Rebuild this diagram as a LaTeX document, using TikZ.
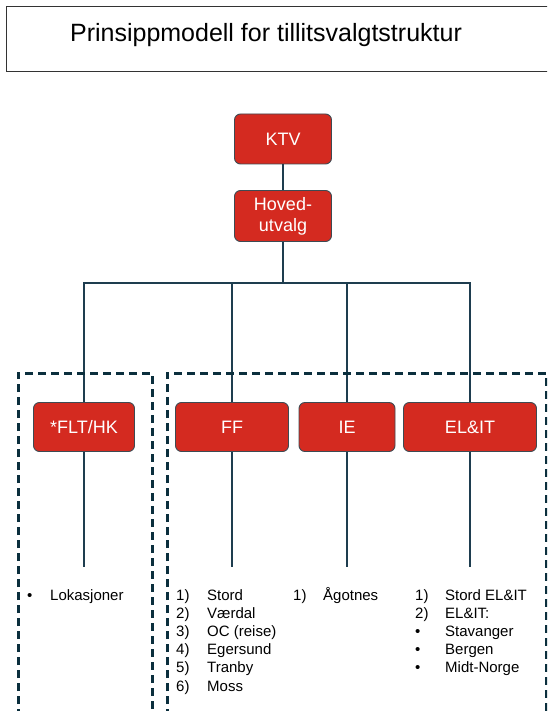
\documentclass[tikz,border=0pt]{standalone}
\usepackage{fontspec}
\setmainfont{Liberation Sans}
\usetikzlibrary{positioning}

\definecolor{unitred}{HTML}{D42A20}
\definecolor{unitedge}{HTML}{3E4A52}
\definecolor{linkcol}{HTML}{1E3D4F}
\definecolor{groupcol}{HTML}{0B2F3D}

\tikzset{
    unit/.style={draw=unitedge, fill=unitred, rounded corners=6pt, text=white,
        minimum height=49pt, inner sep=0pt, line width=0.9pt, align=center,
        font=\fontsize{18}{21}\selectfont},
    link/.style={draw=linkcol, line width=1.1pt},
    group/.style={draw=groupcol, line width=3pt, dash pattern=on 8pt off 5pt},
    sites/.style={anchor=base west, inner sep=0pt, font=\fontsize{15}{18.2}\selectfont}
}

\begin{document}
\begin{tikzpicture}[x=1pt, y=-1pt]
        \clip (0, 0) rectangle (547, 711);
        \fill[white] (0, 0) rectangle (547, 711);

        \draw[line width=1pt, black!80] (6, 7) rectangle (600, 72);
        \node[anchor=base, inner sep=0pt, font=\fontsize{25}{30}\selectfont] (title) at (266, 42) {Prinsippmodell for tillitsvalgtstruktur};

        \node[unit, minimum width=97pt, minimum height=50pt] (ktv) at (283, 139) {KTV};
        \node[unit, minimum width=97pt, minimum height=51pt] (hoved) at (283, 216) {Hoved-\\utvalg};

        \node[unit, minimum width=101pt] (flt) at (84, 427) {*FLT/HK};
        \node[unit, minimum width=113pt] (ff) at (232, 427) {FF};
        \node[unit, minimum width=96pt] (ie) at (347, 427) {IE};
        \node[unit, minimum width=133pt] (elit) at (470, 427) {EL\&IT};

        \coordinate (bus) at (283, 283);
        \draw[link] (ktv) -- (hoved);
        \draw[link] (hoved) -- (bus);
        \draw[link] (flt) |- (bus) -| (elit);
        \draw[link] (ff) -- (ff |- bus);
        \draw[link] (ie) -- (ie |- bus);

        \coordinate (fltend) at (84, 567);
        \coordinate (ffend) at (232, 567);
        \coordinate (ieend) at (347, 567);
        \coordinate (elitend) at (470, 567);
        \draw[link] (flt) -- (fltend);
        \draw[link] (ff) -- (ffend);
        \draw[link] (ie) -- (ieend);
        \draw[link] (elit) -- (elitend);

        \draw[group] (18, 730) -- (18, 373) -- (152, 373) -- (152, 730);
        \draw[group] (167, 730) -- (167, 373) -- (546, 373) -- (546, 730);

        \node[sites] (lok) at (27, 600) {\begin{tabular}[t]{@{}p{23pt}@{}l@{}}
            • & Lokasjoner
        \end{tabular}};
        \node[sites] (fflist) at (176, 600) {\begin{tabular}[t]{@{}p{31pt}@{}l@{}}
            1) & Stord\\
            2) & Værdal\\
            3) & OC (reise)\\
            4) & Egersund\\
            5) & Tranby\\
            6) & Moss
        \end{tabular}};
        \node[sites] (ielist) at (293, 600) {\begin{tabular}[t]{@{}p{30pt}@{}l@{}}
            1) & Ågotnes
        \end{tabular}};
        \node[sites] (elitlist) at (415, 600) {\begin{tabular}[t]{@{}p{30pt}@{}l@{}}
            1) & Stord EL\&IT\\
            2) & EL\&IT:\\
            • & Stavanger\\
            • & Bergen\\
            • & Midt-Norge
        \end{tabular}};
\end{tikzpicture}
\end{document}
